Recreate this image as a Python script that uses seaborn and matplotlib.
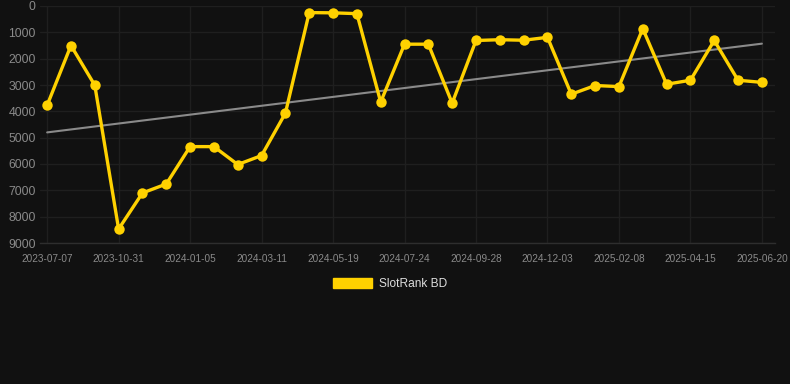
import matplotlib
matplotlib.use("Agg")
import matplotlib.pyplot as plt
import matplotlib.patches as mpatches
import seaborn as sns
import numpy as np
import pandas as pd

tick_labels = ["2023-07-07", "2023-10-31", "2024-01-05", "2024-03-11", "2024-05-19",
               "2024-07-24", "2024-09-28", "2024-12-03", "2025-02-08", "2025-04-15",
               "2025-06-20"]
rank_values = [3770, 1500, 3010, 8470, 7100, 6760, 5340, 5340, 6020, 5680, 4070,
               250, 260, 290, 3650, 1450, 1450, 3690, 1310, 1280, 1300, 1190,
               3350, 3020, 3060, 860, 2970, 2820, 1310, 2820, 2900]
trend_values = [4800, 1430]
series_name = "SlotRank BD"

bg = "#111111"
sns.set_theme(style="dark", rc={
    "figure.facecolor": bg, "axes.facecolor": bg, "savefig.facecolor": bg,
    "axes.edgecolor": bg, "grid.color": "#1e1e1e",
})
plt.rcParams["font.family"] = ["Liberation Sans", "DejaVu Sans"]

df = pd.DataFrame({"idx": np.arange(len(rank_values)), "rank": rank_values})

fig = plt.figure(figsize=(7.9, 3.84), dpi=100)
ax = fig.add_axes([40/790, 1-243/384, 735/790, 237/384])

ax.grid(True, color="#1f1f1f", linewidth=1.0)
ax.set_axisbelow(True)

n = len(rank_values)
ax.plot([0, n-1], trend_values, color="#8a8a8a", linewidth=1.5, zorder=2)
sns.lineplot(data=df, x="idx", y="rank", ax=ax, color="#FFD100", linewidth=2.4,
             marker="o", markersize=7.5, markeredgewidth=0, zorder=3)

ax.set_ylim(9000, 0)
ax.set_yticks(np.arange(0, 9001, 1000))
ax.set_xlim(-0.3, n-1 + 0.55)
ax.set_xticks(np.arange(0, n, 3))
ax.set_xticklabels(tick_labels)
ax.set_xlabel("")
ax.set_ylabel("")
ax.tick_params(axis="y", colors="#8a8a8a", labelsize=8.8, length=0, pad=3)
ax.tick_params(axis="x", colors="#8a8a8a", labelsize=7.2, length=0, pad=8)
for s in ["top", "right", "left"]:
    ax.spines[s].set_visible(False)
ax.spines["bottom"].set_visible(True)
ax.spines["bottom"].set_color("#2e2e2e")
ax.spines["bottom"].set_linewidth(1)

handle = mpatches.Patch(color="#FFD100", label=series_name)
leg = fig.legend(handles=[handle], loc="center", bbox_to_anchor=(390/790, 1-284/384),
                 frameon=False, handlelength=3.3, handleheight=0.95,
                 prop={"size": 8.6}, labelcolor="#dddddd", handletextpad=0.55)

fig.savefig("out.png", dpi=100, facecolor=bg)
